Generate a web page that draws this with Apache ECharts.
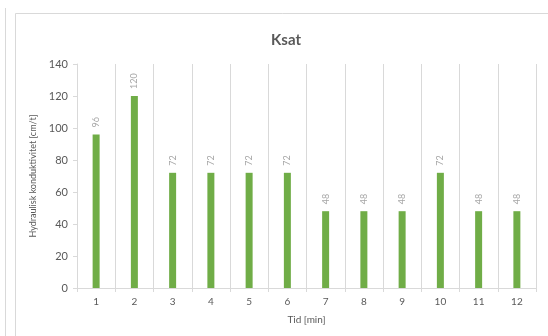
<!DOCTYPE html>
<html>
<head>
<meta charset="utf-8">
<script src="https://cdn.jsdelivr.net/npm/echarts@6/dist/echarts.min.js"></script>
<style>
  html, body { margin: 0; padding: 0; background: #fff; }
  #chart { width: 548px; height: 336px; }
</style>
</head>
<body>
<div id="chart"></div>
<script>
// Saturated hydraulic conductivity per minute
const minutes = ['1', '2', '3', '4', '5', '6', '7', '8', '9', '10', '11', '12'];
const ksatValues = [96, 120, 72, 72, 72, 72, 48, 48, 48, 72, 48, 48];
const yTicks = { min: 0, max: 140, step: 20 };

const chart = echarts.init(document.getElementById('chart'), null, { renderer: 'canvas' });
const fontFamily = 'Lato, "Open Sans", "Liberation Sans", sans-serif';
const gridColor = '#d9d9d9';
const textColor = '#595959';

chart.setOption({
  animation: false,
  backgroundColor: '#ffffff',
  graphic: [
    { type: 'rect', shape: { x: 15.5, y: 13.5, width: 560, height: 340 },
      style: { fill: 'none', stroke: gridColor, lineWidth: 1 }, silent: true },
    { type: 'line', shape: { x1: 5.5, y1: 8, x2: 5.5, y2: 336 },
      style: { stroke: gridColor, lineWidth: 1 }, silent: true }
  ],
  title: {
    text: 'Ksat',
    left: 281, top: 28, textAlign: 'center',
    textStyle: { fontFamily, fontSize: 15, fontWeight: 'bold', color: textColor }
  },
  grid: { left: 77, right: 12, top: 64, bottom: 48, containLabel: false },
  xAxis: {
    type: 'category',
    data: minutes,
    boundaryGap: true,
    name: 'Tid [min]',
    nameLocation: 'middle',
    nameGap: 27,
    nameTextStyle: { fontFamily, fontSize: 10, color: textColor },
    axisLine: { show: true, lineStyle: { color: gridColor } },
    axisTick: { show: true, alignWithLabel: false, length: 4, lineStyle: { color: gridColor } },
    axisLabel: { fontFamily, fontSize: 10, color: textColor, margin: 9 },
    splitLine: { show: true, lineStyle: { color: gridColor } }
  },
  yAxis: {
    type: 'value',
    min: yTicks.min, max: yTicks.max, interval: yTicks.step,
    name: 'Hydraulisk konduktivitet [cm/t]',
    nameLocation: 'middle',
    nameGap: 34,
    nameTextStyle: { fontFamily, fontSize: 9, color: textColor },
    axisLine: { show: true, lineStyle: { color: gridColor } },
    axisTick: { show: true, length: 4, lineStyle: { color: gridColor } },
    axisLabel: { fontFamily, fontSize: 11, color: textColor, margin: 9 },
    splitLine: { show: false }
  },
  series: [{
    type: 'bar',
    data: ksatValues,
    barWidth: 7,
    itemStyle: { color: '#70ad47' },
    label: {
      show: true,
      position: 'top',
      rotate: 90,
      align: 'left',
      verticalAlign: 'middle',
      distance: 7,
      fontFamily, fontSize: 9, color: '#a6a6a6'
    }
  }]
});
</script>
</body>
</html>
